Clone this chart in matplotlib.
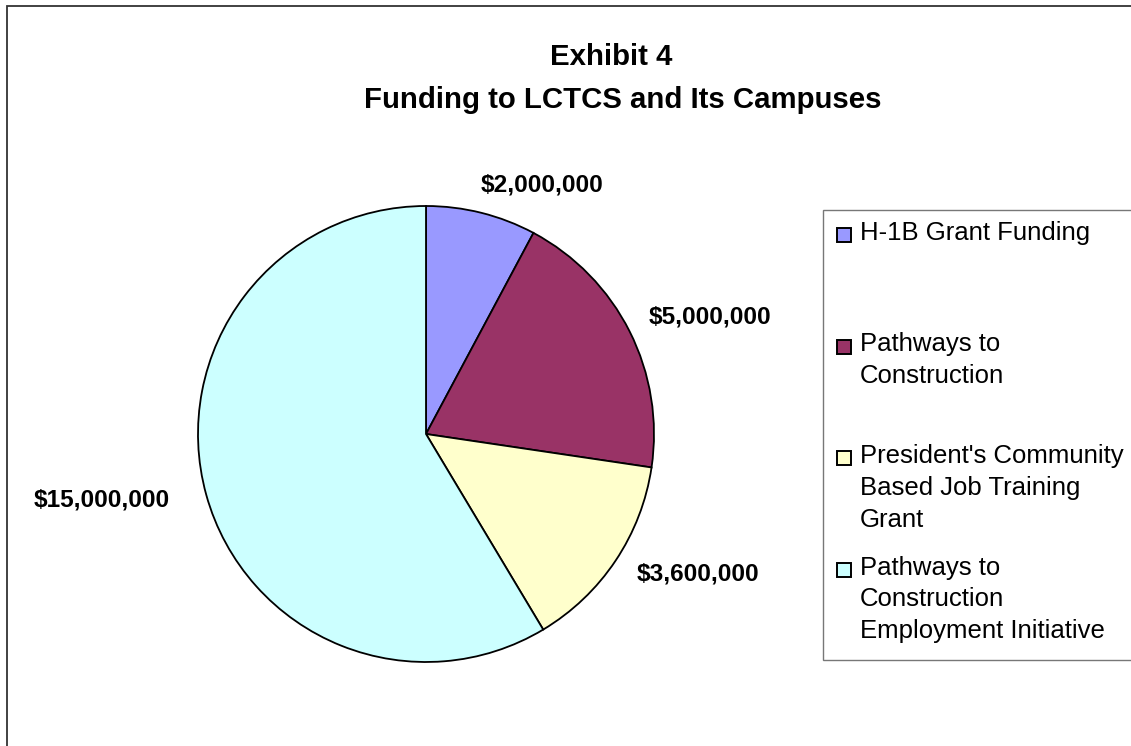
import matplotlib
matplotlib.use("Agg")
import matplotlib.pyplot as plt
from matplotlib.patches import Rectangle

# Chart data
categories = [
    "H-1B Grant Funding",
    "Pathways to\nConstruction",
    "President's Community\nBased Job Training\nGrant",
    "Pathways to\nConstruction\nEmployment Initiative",
]
values = [2000000, 5000000, 3600000, 15000000]
colors = ["#9999FF", "#993366", "#FFFFCC", "#CCFFFF"]

# Label placement (pie radius units)
label_pos = [(0.509, 1.092), (1.246, 0.513), (1.193, -0.614), (-1.421, -0.289)]

W, H = 1131, 746
plt.rcParams["font.family"] = ["Liberation Sans", "DejaVu Sans"]

fig = plt.figure(figsize=(W / 100, H / 100), dpi=100)

# outer chart frame (cropped on right and bottom)
fig.patches.append(Rectangle((7 / W, -0.5), 2.0, 1 - 5.5 / H + 0.5,
                             transform=fig.transFigure, fill=False,
                             edgecolor="#333333", linewidth=1.3))

# pie axes: centre (426, 434) px, radius 228 px
cx, cy, r = 426, 434, 228
pad = 1.05
ax = fig.add_axes([(cx - r * pad) / W, (H - cy - r * pad) / H,
                   2 * r * pad / W, 2 * r * pad / H])
ax.pie(values, colors=colors, startangle=90, counterclock=False,
       wedgeprops=dict(edgecolor="black", linewidth=1.3))
ax.set_xlim(-pad, pad)
ax.set_ylim(-pad, pad)
ax.set_aspect("equal")
ax.axis("off")

for v, (lx, ly) in zip(values, label_pos):
    ax.text(lx, ly, "${:,.0f}".format(v), ha="center", va="center",
            fontsize=17.6, fontweight="bold")

# title
fig.text(611 / W, 1 - 57 / H, "Exhibit 4", ha="center", va="center",
         fontsize=21.2, fontweight="bold")
fig.text(623 / W, 1 - 100 / H, "Funding to LCTCS and Its Campuses",
         ha="center", va="center", fontsize=21.2, fontweight="bold")

# legend box
fig.patches.append(Rectangle((823 / W, 1 - 660 / H), 1.0, 450 / H,
                             transform=fig.transFigure, facecolor="white",
                             edgecolor="#777777", linewidth=1.0))
slot_top = 222
slot_step = 111.5
for i, (lab, col) in enumerate(zip(categories, colors)):
    top = slot_top + i * slot_step
    fig.patches.append(Rectangle((837 / W, 1 - (top + 20) / H), 14 / W, 14 / H,
                                 transform=fig.transFigure, facecolor=col,
                                 edgecolor="black", linewidth=1.4))
    fig.text(860 / W, 1 - (top - 1) / H, lab, ha="left", va="top",
             fontsize=18.5, linespacing=1.41)

fig.savefig("out.png", dpi=100)
